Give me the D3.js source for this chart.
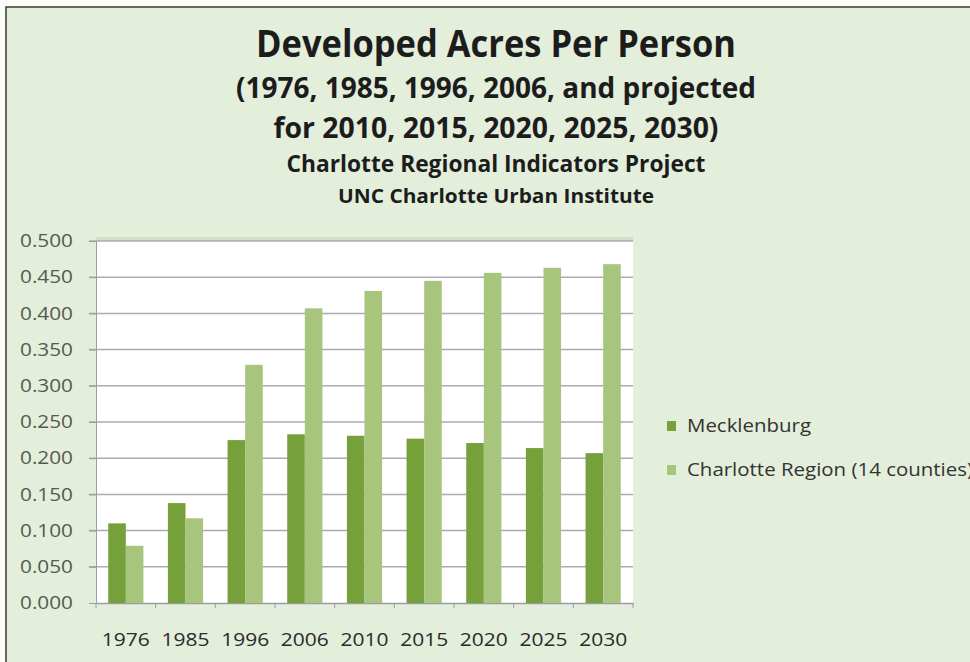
<!DOCTYPE html>
<html>
<head>
<meta charset="utf-8">
<script src="https://cdn.jsdelivr.net/npm/d3@7"></script>
<style>
  body { margin: 0; background: #fdfdf7; }
  svg text { font-family: "Open Sans", "Noto Sans", sans-serif; }
</style>
</head>
<body>
<div id="chart"></div>
<script>
// data
var years = ["1976", "1985", "1996", "2006", "2010", "2015", "2020", "2025", "2030"];
var mecklenburg = [0.110, 0.138, 0.225, 0.233, 0.231, 0.227, 0.221, 0.214, 0.207];
var region = [0.079, 0.117, 0.329, 0.407, 0.431, 0.445, 0.456, 0.463, 0.468];
var seriesNames = ["Mecklenburg", "Charlotte Region (14 counties)"];
var yTicks = [0, 0.05, 0.1, 0.15, 0.2, 0.25, 0.3, 0.35, 0.4, 0.45, 0.5];
var titleLines = [
    "Developed Acres Per Person",
    "(1976, 1985, 1996, 2006, and projected",
    "for 2010, 2015, 2020, 2025, 2030)",
    "Charlotte Regional Indicators Project",
    "UNC Charlotte Urban Institute"
];

var W = 970, H = 662;
var colors = ["#76a03a", "#a8c57e"];

var svg = d3.select("#chart").append("svg")
    .attr("width", W)
    .attr("height", H);

// chart background and frame
svg.append("rect")
    .attr("x", 6).attr("y", 7)
    .attr("width", W + 10).attr("height", H + 10)
    .attr("fill", "#e3eedb")
    .attr("stroke", "#3a3a3a")
    .attr("stroke-width", 1.5);

// titles
var titleSpec = [
    {y: 57, size: 38, w: 480},
    {y: 98, size: 28, w: 520},
    {y: 138, size: 28, w: 445},
    {y: 172, size: 23, w: 419},
    {y: 203, size: 19, w: 316}
];
titleLines.forEach(function(t, i) {
    svg.append("text")
        .attr("x", 496).attr("y", titleSpec[i].y)
        .attr("text-anchor", "middle")
        .attr("font-size", titleSpec[i].size)
        .attr("font-weight", "bold")
        .attr("fill", "#1c1c1c")
        .attr("textLength", titleSpec[i].w)
        .attr("lengthAdjust", "spacingAndGlyphs")
        .text(t);
});

var plot = {left: 96, right: 633, top: 241, bottom: 603};

var x0 = d3.scaleBand()
    .domain(years)
    .range([plot.left, plot.right])
    .paddingInner(0.41)
    .paddingOuter(0.205);

var x1 = d3.scaleBand()
    .domain([0, 1])
    .range([0, x0.bandwidth()]);

var y = d3.scaleLinear()
    .domain([0, 0.5])
    .range([plot.bottom, plot.top]);

// plot area
svg.append("rect")
    .attr("x", plot.left).attr("y", plot.top - 4)
    .attr("width", plot.right - plot.left).attr("height", 4)
    .attr("fill", "#d3e0c3");
svg.append("rect")
    .attr("x", plot.left).attr("y", plot.top)
    .attr("width", plot.right - plot.left).attr("height", plot.bottom - plot.top)
    .attr("fill", "#ffffff");

// grid lines
svg.append("g")
    .selectAll("line")
    .data(yTicks.slice(1))
    .enter().append("line")
    .attr("x1", plot.left - 7).attr("x2", plot.right)
    .attr("y1", function(d) { return y(d); })
    .attr("y2", function(d) { return y(d); })
    .attr("stroke", "#a9abb3")
    .attr("stroke-width", 1.5);

// y axis
var yAxis = svg.append("g")
    .attr("transform", "translate(" + plot.left + ",0)")
    .call(d3.axisLeft(y).tickValues(yTicks).tickFormat(d3.format(".3f")).tickSize(7).tickPadding(16));
yAxis.select(".domain").attr("stroke", "#9a9ca6");
yAxis.selectAll(".tick line").attr("stroke", "#9a9ca6");
yAxis.selectAll("text")
    .attr("font-size", 18)
    .attr("fill", "#555a50")
    .attr("textLength", 53)
    .attr("lengthAdjust", "spacingAndGlyphs");

// x axis
var xAxis = svg.append("g")
    .attr("transform", "translate(0," + plot.bottom + ")")
    .call(d3.axisBottom(x0).tickSize(0));
xAxis.select(".domain").attr("stroke", "#9a9ca6").attr("stroke-width", 1.5);
xAxis.selectAll("text")
    .attr("y", 43)
    .attr("dy", 0)
    .attr("font-size", 18)
    .attr("fill", "#2a2a2a")
    .attr("textLength", 48)
    .attr("lengthAdjust", "spacingAndGlyphs");

// small ticks between categories
var step = x0.step();
svg.append("g")
    .selectAll("line")
    .data(d3.range(years.length + 1))
    .enter().append("line")
    .attr("x1", function(d) { return plot.left + d * step; })
    .attr("x2", function(d) { return plot.left + d * step; })
    .attr("y1", plot.bottom)
    .attr("y2", plot.bottom + 5)
    .attr("stroke", "#9a9ca6");

// bars
var groups = svg.append("g")
    .selectAll("g")
    .data(years)
    .enter().append("g")
    .attr("transform", function(d) { return "translate(" + x0(d) + ",0)"; });

groups.selectAll("rect")
    .data(function(d, i) { return [mecklenburg[i], region[i]]; })
    .enter().append("rect")
    .attr("x", function(d, j) { return x1(j); })
    .attr("width", x1.bandwidth())
    .attr("y", function(d) { return y(d); })
    .attr("height", function(d) { return y(0) - y(d); })
    .attr("fill", function(d, j) { return colors[j]; });

// legend
var legendWidths = [124, 286];
var legend = svg.append("g")
    .selectAll("g")
    .data(seriesNames)
    .enter().append("g")
    .attr("transform", function(d, i) { return "translate(667," + (426 + i * 44) + ")"; });

legend.append("rect")
    .attr("x", 0).attr("y", -5)
    .attr("width", 9).attr("height", 10)
    .attr("fill", function(d, i) { return colors[i]; });

legend.append("text")
    .attr("x", 20).attr("y", 6)
    .attr("font-size", 18)
    .attr("fill", "#333333")
    .attr("textLength", function(d, i) { return legendWidths[i]; })
    .attr("lengthAdjust", "spacingAndGlyphs")
    .text(function(d) { return d; });
</script>
</body>
</html>
